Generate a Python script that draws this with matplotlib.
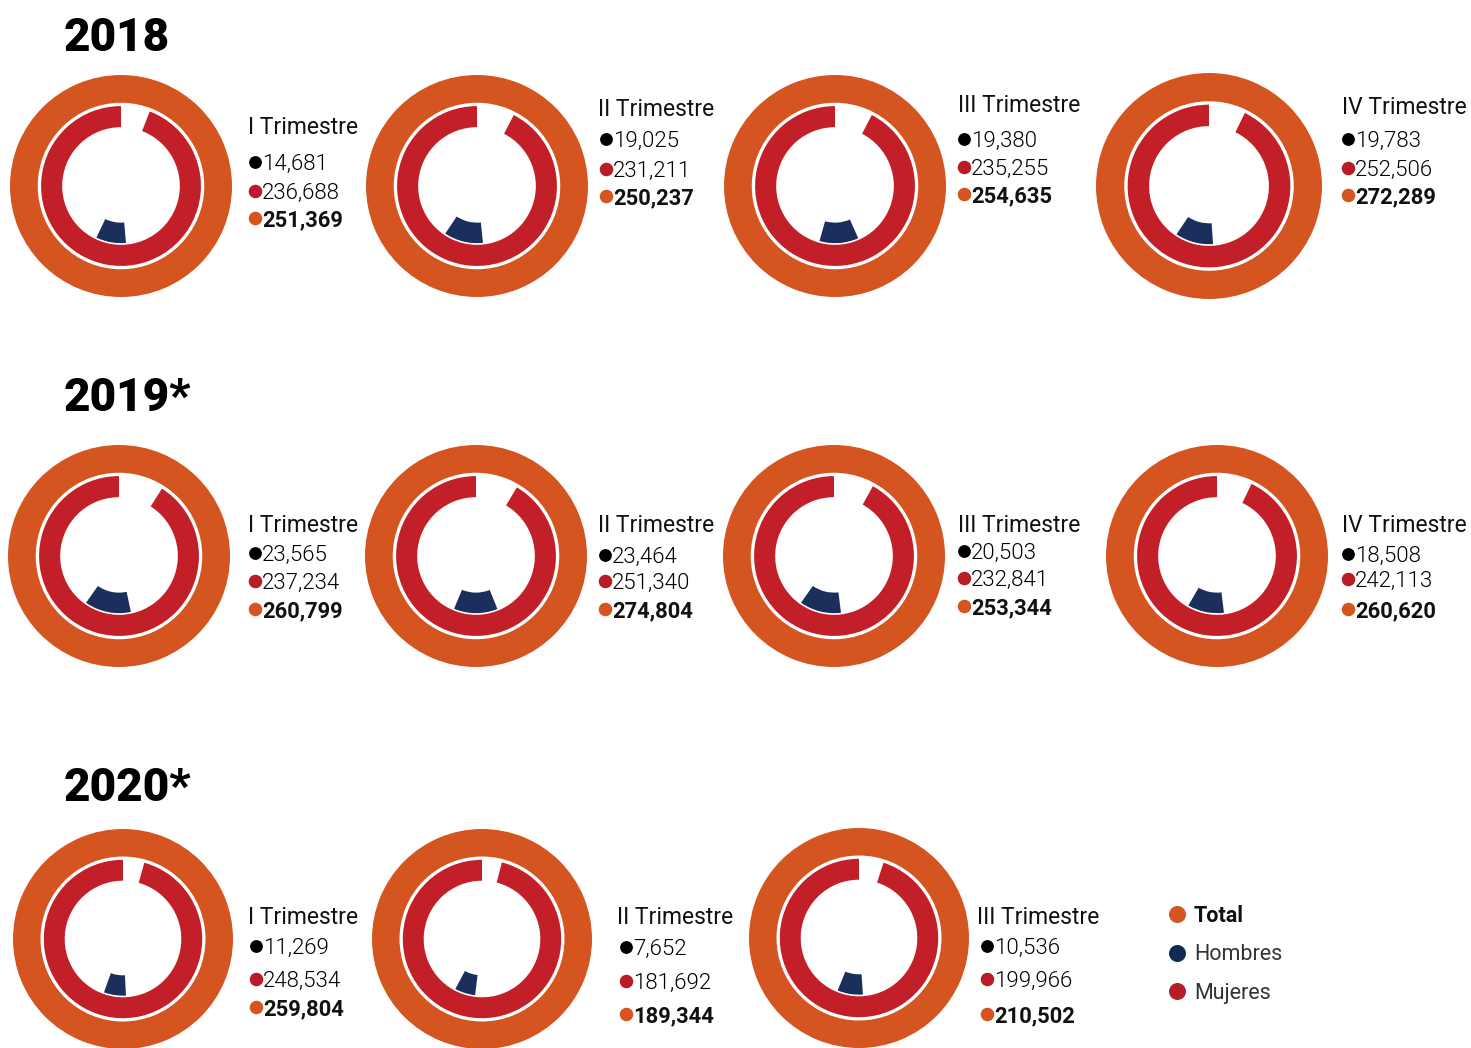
import matplotlib
matplotlib.use("Agg")
import matplotlib.pyplot as plt
from matplotlib.patches import Wedge

# ---------------- data ----------------
years = ["2018", "2019*", "2020*"]
quarter_labels = ["I Trimestre", "II Trimestre", "III Trimestre", "IV Trimestre",
                  "I Trimestre", "II Trimestre", "III Trimestre", "IV Trimestre",
                  "I Trimestre", "II Trimestre", "III Trimestre"]
hombres = [14681, 19025, 19380, 19783, 23565, 23464, 20503, 18508, 11269, 7652, 10536]
mujeres = [236688, 231211, 235255, 252506, 237234, 251340, 232841, 242113, 248534, 181692, 199966]
total = [251369, 250237, 254635, 272289, 260799, 274804, 253344, 260620, 259804, 189344, 210502]
legend_labels = ["Total", "Hombres", "Mujeres"]

# ---------------- style / layout ----------------
ORANGE = "#D45520"
RED = "#C21F28"
NAVY = "#1B2F5C"
DOT_RED = "#B71C27"
LEG_NAVY = "#0F2B52"
W, H = 1471, 1048

centers = [(121, 186), (477, 186), (835, 186), (1209, 186),
           (119, 556), (476, 556), (834, 556), (1217, 556),
           (123, 939), (482, 939), (859, 938)]
radii = [111, 111, 111, 113, 111, 111, 111, 111, 110, 110, 110]
navy_start = [175, 174, 156, 176, 168, 158, 173, 173, 177, 187, 176]  # clockwise from top
NAVY_SCALE = 1.45

label_x = [248, 598, 958, 1342, 248, 598, 958, 1342, 248, 617, 977]
title_y = [126, 108, 104, 106, 523, 523, 523, 523, 915, 915, 915]
line_y = [(162, 191, 218), (139, 169, 196), (139, 167, 194), (139, 168, 195),
          (553, 581, 609), (555, 581, 609), (551, 578, 606), (554, 579, 609),
          (946, 979, 1007), (947, 981, 1014), (946, 979, 1014)]
dot_x = [255, 606, 964, 1348, 255, 605, 964, 1348, 256, 626, 987]
year_pos = [(64, 38), (64, 398), (64, 788)]
TXT_DY = 2  # vertical text nudge (px, downward)

plt.rcParams["font.family"] = ["Roboto", "DejaVu Sans"]

fig = plt.figure(figsize=(W / 100, H / 100), dpi=100)
ax = fig.add_axes([0, 0, 1, 1])


def Y(y):
    return H - y


for i in range(len(total)):
    cx, cy = centers[i]
    R = radii[i]
    c = (cx, Y(cy))
    # outer orange ring (total)
    ax.pie([total[i]], radius=R, center=c, colors=[ORANGE], frame=True,
           wedgeprops=dict(width=R * (1 - 0.75), linewidth=0))
    # red ring (mujeres share), gap at the top
    ax.pie([total[i] - mujeres[i], mujeres[i]], radius=R * 0.72, center=c,
           colors=["none", RED], startangle=90, counterclock=False, frame=True,
           wedgeprops=dict(width=R * (0.72 - 0.53), linewidth=0))
    # navy arc (hombres share)
    span = hombres[i] / total[i] * 360 * NAVY_SCALE
    st = navy_start[i]
    ax.add_patch(Wedge(c, R * 0.515, 90 - (st + span), 90 - st,
                       width=R * (0.515 - 0.33), facecolor=NAVY, linewidth=0))

    # labels
    ax.text(label_x[i], Y(title_y[i] + TXT_DY), quarter_labels[i], fontsize=16.5,
            color="#111111", va="center", ha="left")
    yb, yr, yo = line_y[i]
    dx = dot_x[i]
    ax.scatter([dx], [Y(yb)], s=85, color="black", zorder=5, linewidths=0)
    ax.scatter([dx], [Y(yr)], s=95, color=DOT_RED, zorder=5, linewidths=0)
    ax.scatter([dx], [Y(yo)], s=95, color=ORANGE, zorder=5, linewidths=0)
    ax.text(dx + 7, Y(yb + TXT_DY), f"{hombres[i]:,}", fontsize=16, fontweight=300,
            color="black", va="center", ha="left")
    ax.text(dx + 7, Y(yr + TXT_DY), f"{mujeres[i]:,}", fontsize=16, fontweight=300,
            color="black", va="center", ha="left")
    ax.text(dx + 7, Y(yo + TXT_DY), f"{total[i]:,}", fontsize=15.8, fontweight="bold",
            color="#111111", va="center", ha="left")

for yr_label, (x, y) in zip(years, year_pos):
    ax.text(x, Y(y), yr_label, fontsize=33, fontweight="black",
            color="black", va="center", ha="left")

# legend
leg_colors = [ORANGE, LEG_NAVY, DOT_RED]
leg_y = [914, 953, 991]
for lab, col, ly in zip(legend_labels, leg_colors, leg_y):
    ax.scatter([1177], [Y(ly)], s=150, color=col, linewidths=0, zorder=5)
    ax.text(1194, Y(ly + TXT_DY), lab, fontsize=15.5,
            fontweight="bold" if lab == "Total" else "normal",
            color="#111111" if lab == "Total" else "#333333",
            va="center", ha="left")

ax.set_xlim(0, W)
ax.set_ylim(0, H)
ax.set_aspect("equal")
ax.axis("off")
fig.savefig("out.png", dpi=100, facecolor="white")
